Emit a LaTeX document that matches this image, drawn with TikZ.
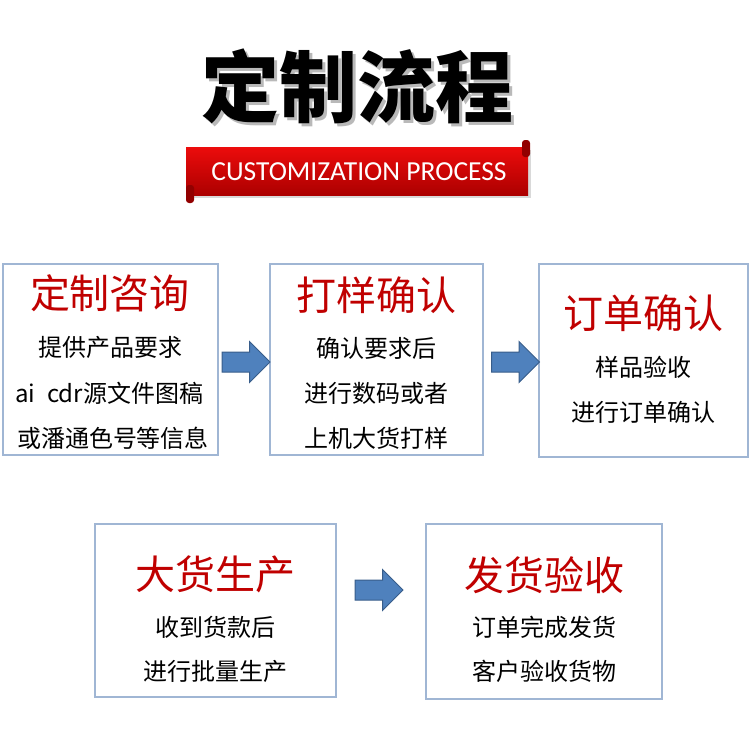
\documentclass[tikz,border=0pt]{standalone}
\usepackage{fontspec}
\setmainfont{Carlito}
\newfontfamily\cjk{Noto Sans CJK SC}
\usepackage[outline]{contour}
\usetikzlibrary{shapes.arrows}
\definecolor{boxblue}{RGB}{160,182,212}
\definecolor{arrowblue}{RGB}{79,129,189}
\definecolor{arrowedge}{RGB}{56,93,138}
\definecolor{titlered}{RGB}{192,0,0}
\definecolor{ribbontop}{RGB}{236,12,12}
\definecolor{ribbonbottom}{RGB}{172,0,0}
\tikzset{
	box/.style={draw=boxblue, line width=1.5pt, fill=white},
	head/.style={text=titlered, font=\cjk\fontsize{40}{40}\selectfont},
	line/.style={font=\cjk\fontsize{24}{24}\selectfont},
	blockarrow/.style={single arrow, draw=arrowedge, fill=arrowblue, line width=1pt,
			minimum height=48pt, inner xsep=0pt, inner ysep=9.5pt, single arrow head extend=10.5pt}
}

\begin{document}
\begin{tikzpicture}[x=1pt, y=-1pt]
		\useasboundingbox (0,0) rectangle (750,750);

		% Title
		\node[text=gray!55, font=\cjk\bfseries\fontsize{78}{78}\selectfont] (titleshadow) at (360,89) {定制流程};
		\node[font=\cjk\bfseries\fontsize{78}{78}\selectfont] (title) at (357,86) {\contourlength{1.5pt}\contour{white}{定制流程}};

		% Ribbon
		\fill[gray!30] (189,150) rectangle (531,198);
		\shade[top color=ribbontop, bottom color=ribbonbottom] (186,147) rectangle (528,195);
		\fill[ribbonbottom!85!black, rounded corners=3pt] (522,140) rectangle (530,157);
		\fill[ribbonbottom!85!black, rounded corners=3pt] (186,185) rectangle (194,203);
		\node[text=white, font=\fontsize{27.5}{27.5}\selectfont] (subtitle) at (359,172) {CUSTOMIZATION PROCESS};

		% Top row
		\node[box, minimum width=215pt, minimum height=191pt] (consult) at (110.5,359.5) {};
		\node[head] (consulthead) at (110,293) {定制咨询};
		\node[line] (consult1) at (110,347) {提供产品要求};
		\node[line] (consult2) at (109,393) {ai\hspace{0.5em}cdr源文件图稿};
		\node[line] (consult3) at (113,438) {或潘通色号等信息};

		\node[box, minimum width=213pt, minimum height=191pt] (sample) at (376.5,359.5) {};
		\node[head] (samplehead) at (376,295) {打样确认};
		\node[line] (sample1) at (376,348) {确认要求后};
		\node[line] (sample2) at (376,393) {进行数码或者};
		\node[line] (sample3) at (376,438) {上机大货打样};

		\node[box, minimum width=209pt, minimum height=193pt] (order) at (643.5,360.5) {};
		\node[head] (orderhead) at (643,313) {订单确认};
		\node[line] (order1) at (643,367) {样品验收};
		\node[line] (order2) at (643,412) {进行订单确认};

		% Bottom row
		\node[box, minimum width=241pt, minimum height=173pt] (produce) at (215.5,610.5) {};
		\node[head] (producehead) at (215,574) {大货生产};
		\node[line] (produce1) at (215,627) {收到货款后};
		\node[line] (produce2) at (215,671) {进行批量生产};

		\node[box, minimum width=236pt, minimum height=175pt] (ship) at (544,611.5) {};
		\node[head] (shiphead) at (544,575) {发货验收};
		\node[line] (ship1) at (544,627) {订单完成发货};
		\node[line] (ship2) at (544,671) {客户验收货物};

		% Arrows
		\node[blockarrow] (arrow1) at (241,362) {};
		\node[blockarrow] (arrow2) at (510.5,362) {};
		\node[blockarrow] (arrow3) at (374,590) {};
	\end{tikzpicture}
\end{document}
